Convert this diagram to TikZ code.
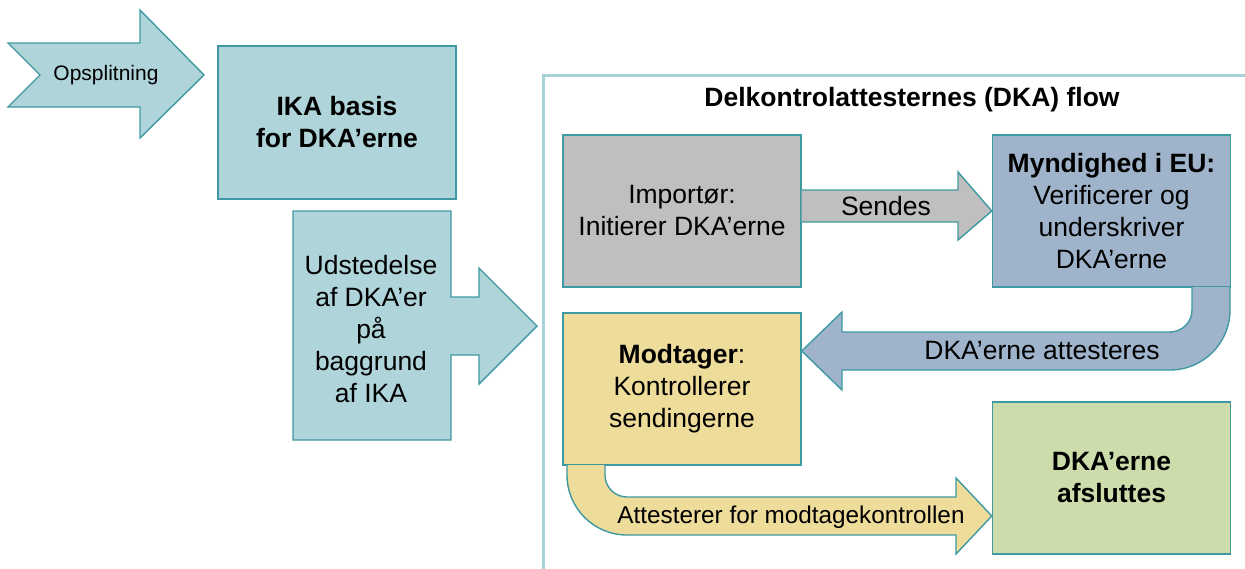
\documentclass[tikz,border=0pt]{standalone}
\usepackage{fontspec}
\setmainfont{Liberation Sans}
\definecolor{tealfill}{HTML}{AFD4D9}
\definecolor{edge}{HTML}{3F99A2}
\definecolor{framec}{HTML}{A6D2D8}
\definecolor{grayfill}{HTML}{BFBFBF}
\definecolor{bluefill}{HTML}{9FB4CB}
\definecolor{yelfill}{HTML}{EEDC9A}
\definecolor{grnfill}{HTML}{CCDDAB}
\begin{document}
\begin{tikzpicture}[x=1pt,y=-1pt,
  shape line/.style={draw=edge,line width=1.4pt,line join=miter},
  boxnode/.style={shape line,rectangle,minimum width=238pt,minimum height=152pt,align=center,inner sep=0pt},
  txt/.style={font=\fontsize{26.5}{32}\selectfont,align=center},
  btxt/.style={font=\fontsize{26.5}{32}\selectfont\bfseries,align=center}]
\useasboundingbox (0,0) rectangle (1245,568);

% Opsplitning arrow
\filldraw[shape line,fill=tealfill] (8,43) -- (140,43) -- (140,10) -- (204,75) -- (140,138) -- (140,107) -- (8,107) -- (40,75) -- cycle;
\node[font=\fontsize{21}{25}\selectfont] (ops) at (106,75) {Opsplitning};

% IKA basis
\node[boxnode,fill=tealfill,minimum height=153pt,btxt] (ika) at (337,122.5) {IKA basis\\for DKA’erne};

% Udstedelse arrow
\filldraw[shape line,fill=tealfill] (293,211) -- (451,211) -- (451,297) -- (479,297) -- (479,268) -- (537,326) -- (479,384) -- (479,355) -- (451,355) -- (451,440) -- (293,440) -- cycle;
\node[txt] (udst) at (371,329) {Udstedelse\\af DKA’er\\på\\baggrund\\af IKA};

% Frame
\draw[framec,line width=3pt] (543,575) -- (543,75) -- (1252,75);
\node[btxt] (title) at (912,100) {Delkontrolattesternes (DKA) flow};

% Boxes
\node[boxnode,fill=grayfill,txt] (imp) at (682,211) {Importør:\\Initierer DKA’erne};
\node[boxnode,fill=bluefill,txt] (myn) at (1111.5,211) {\textbf{Myndighed i EU:}\\Verificerer og\\underskriver\\DKA’erne};
\node[boxnode,fill=yelfill,txt] (mod) at (682,389) {\textbf{Modtager}:\\Kontrollerer\\sendingerne};
\node[boxnode,fill=grnfill,btxt] (afs) at (1111.5,478) {DKA’erne\\afsluttes};

% Sendes arrow
\filldraw[shape line,fill=grayfill] (imp.east |- 0,190) -- (958,190) -- (958,172) -- (myn.west) -- (958,240) -- (958,222) -- (imp.east |- 0,222);
\node[txt] (sendes) at (886,206) {Sendes};

% DKA'erne attesteres U-arrow
\filldraw[shape line,fill=bluefill] (1230,287) -- (1230,310) arc[start angle=0,end angle=90,radius=60] -- (842,370) -- (842,390) -- (mod.east |- 0,351) -- (842,312) -- (842,332) -- (1170,332) arc[start angle=90,end angle=0,radius=22] -- (1192,287);
\node[txt] (att) at (1042,351) {DKA’erne attesteres};

% Attesterer for modtagekontrollen U-arrow
\filldraw[shape line,fill=yelfill] (567,465) -- (567,475) arc[start angle=180,end angle=90,radius=60] -- (956,535) -- (956,554) -- (afs.west |- 0,516) -- (956,478) -- (956,497) -- (627,497) arc[start angle=90,end angle=180,radius=22] -- (605,465);
\node[font=\fontsize{24.3}{29}\selectfont] (attm) at (791,517) {Attesterer for modtagekontrollen};
\end{tikzpicture}
\end{document}
